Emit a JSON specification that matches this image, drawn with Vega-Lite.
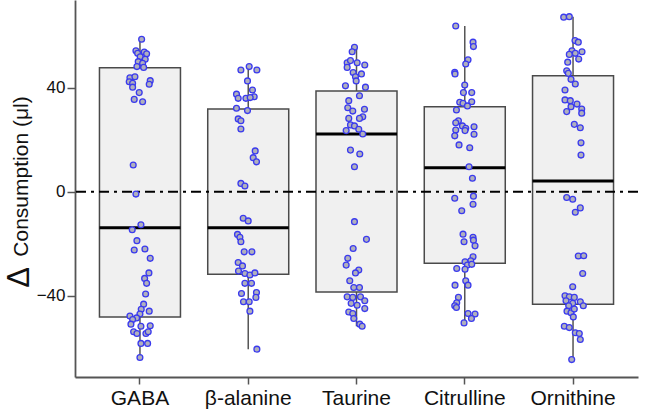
{
  "$schema": "https://vega.github.io/schema/vega-lite/v6.json",
  "width": 563,
  "height": 377,
  "autosize": "none",
  "padding": {"left": 75, "top": 0, "right": 7, "bottom": 37},
  "background": "white",
  "config": {
    "view": {"stroke": null},
    "axis": {"grid": false, "domainColor": "#555555", "tickColor": "#555555", "domainWidth": 1.8, "tickWidth": 1.5, "labelColor": "#111111", "labelFont": "Liberation Sans", "titleFont": "Liberation Sans", "titleColor": "#111111", "titleFontWeight": "normal"}
  },
  "datasets": {
    "boxes": [
      {"amino": "GABA", "lower": -63.7, "q1": -48.1, "median": -13.8, "q3": 47.7, "upper": 58.6},
      {"amino": "β-alanine", "lower": -60.5, "q1": -31.7, "median": -13.8, "q3": 31.8, "upper": 48.1},
      {"amino": "Taurine", "lower": -51.7, "q1": -38.5, "median": 22.2, "q3": 38.7, "upper": 55.5},
      {"amino": "Citrulline", "lower": -50.4, "q1": -27.5, "median": 9.2, "q3": 32.7, "upper": 63.7},
      {"amino": "Ornithine", "lower": -64.5, "q1": -43.2, "median": 4.1, "q3": 44.6, "upper": 67.3}
    ],
    "reference": [{"level": 0}],
    "points": [
      {"amino": "GABA", "value": 58.6, "jitter": 0.17},
      {"amino": "GABA", "value": 54.2, "jitter": -0.4},
      {"amino": "GABA", "value": 53.7, "jitter": 0.43},
      {"amino": "GABA", "value": 53.2, "jitter": -0.23},
      {"amino": "GABA", "value": 53.0, "jitter": 0.67},
      {"amino": "GABA", "value": 51.9, "jitter": 0.03},
      {"amino": "GABA", "value": 50.9, "jitter": 0.53},
      {"amino": "GABA", "value": 50.0, "jitter": -0.17},
      {"amino": "GABA", "value": 49.4, "jitter": 0.27},
      {"amino": "GABA", "value": 48.1, "jitter": -0.3},
      {"amino": "GABA", "value": 47.8, "jitter": 0.37},
      {"amino": "GABA", "value": 43.8, "jitter": -1.0},
      {"amino": "GABA", "value": 44.2, "jitter": -0.5},
      {"amino": "GABA", "value": 42.3, "jitter": -1.07},
      {"amino": "GABA", "value": 41.7, "jitter": -0.73},
      {"amino": "GABA", "value": 42.7, "jitter": 1.03},
      {"amino": "GABA", "value": 41.3, "jitter": 0.93},
      {"amino": "GABA", "value": 40.2, "jitter": -0.73},
      {"amino": "GABA", "value": 38.1, "jitter": -0.07},
      {"amino": "GABA", "value": 35.5, "jitter": -0.57},
      {"amino": "GABA", "value": 34.6, "jitter": 0.27},
      {"amino": "GABA", "value": 10.3, "jitter": -0.67},
      {"amino": "GABA", "value": -0.9, "jitter": -0.4},
      {"amino": "GABA", "value": -12.7, "jitter": 0.1},
      {"amino": "GABA", "value": -14.6, "jitter": -0.77},
      {"amino": "GABA", "value": -18.8, "jitter": -0.3},
      {"amino": "GABA", "value": -22.4, "jitter": -0.57},
      {"amino": "GABA", "value": -22.0, "jitter": 0.5},
      {"amino": "GABA", "value": -25.6, "jitter": 1.03},
      {"amino": "GABA", "value": -31.2, "jitter": 0.9},
      {"amino": "GABA", "value": -33.3, "jitter": 0.47},
      {"amino": "GABA", "value": -35.2, "jitter": 0.67},
      {"amino": "GABA", "value": -39.3, "jitter": 0.57},
      {"amino": "GABA", "value": -43.2, "jitter": 0.37},
      {"amino": "GABA", "value": -45.2, "jitter": 0.13},
      {"amino": "GABA", "value": -45.9, "jitter": 0.93},
      {"amino": "GABA", "value": -47.0, "jitter": 0.0},
      {"amino": "GABA", "value": -47.8, "jitter": -1.0},
      {"amino": "GABA", "value": -48.5, "jitter": -0.33},
      {"amino": "GABA", "value": -49.1, "jitter": -0.73},
      {"amino": "GABA", "value": -50.9, "jitter": -0.9},
      {"amino": "GABA", "value": -51.7, "jitter": 0.1},
      {"amino": "GABA", "value": -51.5, "jitter": 1.03},
      {"amino": "GABA", "value": -53.8, "jitter": -0.63},
      {"amino": "GABA", "value": -54.5, "jitter": -0.3},
      {"amino": "GABA", "value": -54.5, "jitter": 0.6},
      {"amino": "GABA", "value": -53.8, "jitter": 0.83},
      {"amino": "GABA", "value": -58.3, "jitter": 0.1},
      {"amino": "GABA", "value": -58.3, "jitter": 0.77},
      {"amino": "GABA", "value": -63.7, "jitter": 0.0},
      {"amino": "β-alanine", "value": 46.8, "jitter": -0.73},
      {"amino": "β-alanine", "value": 48.1, "jitter": 0.1},
      {"amino": "β-alanine", "value": 46.8, "jitter": 0.87},
      {"amino": "β-alanine", "value": 42.6, "jitter": -0.07},
      {"amino": "β-alanine", "value": 39.1, "jitter": 0.43},
      {"amino": "β-alanine", "value": 37.5, "jitter": -1.17},
      {"amino": "β-alanine", "value": 36.5, "jitter": 0.6},
      {"amino": "β-alanine", "value": 35.9, "jitter": -1.0},
      {"amino": "β-alanine", "value": 35.9, "jitter": -0.23},
      {"amino": "β-alanine", "value": 36.2, "jitter": 0.2},
      {"amino": "β-alanine", "value": 32.1, "jitter": -1.17},
      {"amino": "β-alanine", "value": 31.2, "jitter": -0.07},
      {"amino": "β-alanine", "value": 28.0, "jitter": -1.0},
      {"amino": "β-alanine", "value": 27.3, "jitter": -0.73},
      {"amino": "β-alanine", "value": 24.1, "jitter": -0.73},
      {"amino": "β-alanine", "value": 15.7, "jitter": 0.7},
      {"amino": "β-alanine", "value": 13.1, "jitter": 0.5},
      {"amino": "β-alanine", "value": 11.5, "jitter": 0.83},
      {"amino": "β-alanine", "value": 3.2, "jitter": -0.73},
      {"amino": "β-alanine", "value": 2.2, "jitter": -0.33},
      {"amino": "β-alanine", "value": -10.2, "jitter": -0.5},
      {"amino": "β-alanine", "value": -11.2, "jitter": 0.0},
      {"amino": "β-alanine", "value": -16.4, "jitter": -1.07},
      {"amino": "β-alanine", "value": -17.5, "jitter": -0.83},
      {"amino": "β-alanine", "value": -19.2, "jitter": -0.73},
      {"amino": "β-alanine", "value": -23.1, "jitter": -0.4},
      {"amino": "β-alanine", "value": -23.1, "jitter": 0.37},
      {"amino": "β-alanine", "value": -27.2, "jitter": -1.0},
      {"amino": "β-alanine", "value": -28.5, "jitter": -0.57},
      {"amino": "β-alanine", "value": -30.5, "jitter": -0.97},
      {"amino": "β-alanine", "value": -31.4, "jitter": -0.33},
      {"amino": "β-alanine", "value": -32.0, "jitter": 0.17},
      {"amino": "β-alanine", "value": -31.2, "jitter": 0.67},
      {"amino": "β-alanine", "value": -35.2, "jitter": -0.33},
      {"amino": "β-alanine", "value": -35.2, "jitter": 0.33},
      {"amino": "β-alanine", "value": -39.1, "jitter": -0.67},
      {"amino": "β-alanine", "value": -38.7, "jitter": 0.83},
      {"amino": "β-alanine", "value": -40.6, "jitter": 0.77},
      {"amino": "β-alanine", "value": -42.3, "jitter": -0.47},
      {"amino": "β-alanine", "value": -42.3, "jitter": 0.1},
      {"amino": "β-alanine", "value": -45.9, "jitter": 0.17},
      {"amino": "β-alanine", "value": -60.5, "jitter": 0.87},
      {"amino": "Taurine", "value": 55.5, "jitter": -0.2},
      {"amino": "Taurine", "value": 53.8, "jitter": -0.43},
      {"amino": "Taurine", "value": 49.6, "jitter": -0.93},
      {"amino": "Taurine", "value": 50.4, "jitter": -0.6},
      {"amino": "Taurine", "value": 49.6, "jitter": 0.07},
      {"amino": "Taurine", "value": 48.7, "jitter": 0.83},
      {"amino": "Taurine", "value": 47.8, "jitter": -0.93},
      {"amino": "Taurine", "value": 45.8, "jitter": -0.33},
      {"amino": "Taurine", "value": 45.3, "jitter": 0.5},
      {"amino": "Taurine", "value": 44.2, "jitter": -0.1},
      {"amino": "Taurine", "value": 42.6, "jitter": -0.03},
      {"amino": "Taurine", "value": 40.7, "jitter": -1.1},
      {"amino": "Taurine", "value": 40.2, "jitter": 0.9},
      {"amino": "Taurine", "value": 36.9, "jitter": 0.3},
      {"amino": "Taurine", "value": 35.0, "jitter": -0.77},
      {"amino": "Taurine", "value": 32.3, "jitter": -0.87},
      {"amino": "Taurine", "value": 31.7, "jitter": 0.8},
      {"amino": "Taurine", "value": 31.0, "jitter": -0.37},
      {"amino": "Taurine", "value": 28.8, "jitter": 0.63},
      {"amino": "Taurine", "value": 28.2, "jitter": -0.77},
      {"amino": "Taurine", "value": 28.2, "jitter": 0.3},
      {"amino": "Taurine", "value": 25.7, "jitter": -0.6},
      {"amino": "Taurine", "value": 25.3, "jitter": -0.2},
      {"amino": "Taurine", "value": 23.5, "jitter": -1.03},
      {"amino": "Taurine", "value": 24.0, "jitter": 0.23},
      {"amino": "Taurine", "value": 22.2, "jitter": 0.63},
      {"amino": "Taurine", "value": 16.0, "jitter": -0.6},
      {"amino": "Taurine", "value": 14.5, "jitter": 0.33},
      {"amino": "Taurine", "value": 9.6, "jitter": -0.2},
      {"amino": "Taurine", "value": -11.5, "jitter": -0.2},
      {"amino": "Taurine", "value": -18.3, "jitter": 1.0},
      {"amino": "Taurine", "value": -21.8, "jitter": -0.33},
      {"amino": "Taurine", "value": -25.6, "jitter": -0.87},
      {"amino": "Taurine", "value": -28.2, "jitter": -1.03},
      {"amino": "Taurine", "value": -30.1, "jitter": 0.23},
      {"amino": "Taurine", "value": -31.2, "jitter": -0.1},
      {"amino": "Taurine", "value": -34.2, "jitter": -0.67},
      {"amino": "Taurine", "value": -36.8, "jitter": -0.27},
      {"amino": "Taurine", "value": -36.8, "jitter": 0.3},
      {"amino": "Taurine", "value": -40.4, "jitter": -0.93},
      {"amino": "Taurine", "value": -40.6, "jitter": -0.37},
      {"amino": "Taurine", "value": -40.4, "jitter": 0.4},
      {"amino": "Taurine", "value": -41.9, "jitter": 0.83},
      {"amino": "Taurine", "value": -42.9, "jitter": -0.53},
      {"amino": "Taurine", "value": -43.6, "jitter": 0.07},
      {"amino": "Taurine", "value": -44.9, "jitter": 0.83},
      {"amino": "Taurine", "value": -46.2, "jitter": -0.77},
      {"amino": "Taurine", "value": -46.8, "jitter": -0.37},
      {"amino": "Taurine", "value": -48.7, "jitter": -0.27},
      {"amino": "Taurine", "value": -50.9, "jitter": 0.33},
      {"amino": "Taurine", "value": -51.7, "jitter": 0.57},
      {"amino": "Citrulline", "value": 63.7, "jitter": -0.9},
      {"amino": "Citrulline", "value": 57.5, "jitter": 0.83},
      {"amino": "Citrulline", "value": 55.8, "jitter": 0.87},
      {"amino": "Citrulline", "value": 50.7, "jitter": 0.33},
      {"amino": "Citrulline", "value": 49.1, "jitter": 0.1},
      {"amino": "Citrulline", "value": 45.9, "jitter": -1.0},
      {"amino": "Citrulline", "value": 45.3, "jitter": -0.97},
      {"amino": "Citrulline", "value": 41.0, "jitter": 0.0},
      {"amino": "Citrulline", "value": 38.1, "jitter": -0.13},
      {"amino": "Citrulline", "value": 38.1, "jitter": 0.7},
      {"amino": "Citrulline", "value": 34.4, "jitter": -0.5},
      {"amino": "Citrulline", "value": 34.0, "jitter": -0.17},
      {"amino": "Citrulline", "value": 34.6, "jitter": 0.7},
      {"amino": "Citrulline", "value": 33.0, "jitter": 0.27},
      {"amino": "Citrulline", "value": 31.4, "jitter": -0.83},
      {"amino": "Citrulline", "value": 27.3, "jitter": -0.63},
      {"amino": "Citrulline", "value": 26.5, "jitter": -0.9},
      {"amino": "Citrulline", "value": 25.3, "jitter": -0.23},
      {"amino": "Citrulline", "value": 24.4, "jitter": 0.1},
      {"amino": "Citrulline", "value": 25.0, "jitter": 0.93},
      {"amino": "Citrulline", "value": 23.7, "jitter": -0.9},
      {"amino": "Citrulline", "value": 23.5, "jitter": 0.03},
      {"amino": "Citrulline", "value": 22.1, "jitter": 0.93},
      {"amino": "Citrulline", "value": 21.5, "jitter": -1.0},
      {"amino": "Citrulline", "value": 18.0, "jitter": -0.57},
      {"amino": "Citrulline", "value": 16.9, "jitter": 0.5},
      {"amino": "Citrulline", "value": 9.6, "jitter": 0.43},
      {"amino": "Citrulline", "value": 5.2, "jitter": 0.77},
      {"amino": "Citrulline", "value": -1.7, "jitter": 0.87},
      {"amino": "Citrulline", "value": -2.5, "jitter": -1.0},
      {"amino": "Citrulline", "value": -4.8, "jitter": 0.83},
      {"amino": "Citrulline", "value": -7.3, "jitter": -0.3},
      {"amino": "Citrulline", "value": -16.3, "jitter": -0.17},
      {"amino": "Citrulline", "value": -19.2, "jitter": -0.07},
      {"amino": "Citrulline", "value": -17.5, "jitter": 0.83},
      {"amino": "Citrulline", "value": -18.6, "jitter": 0.87},
      {"amino": "Citrulline", "value": -20.8, "jitter": 1.03},
      {"amino": "Citrulline", "value": -25.0, "jitter": 0.83},
      {"amino": "Citrulline", "value": -26.5, "jitter": 0.6},
      {"amino": "Citrulline", "value": -26.9, "jitter": 0.03},
      {"amino": "Citrulline", "value": -28.2, "jitter": 0.27},
      {"amino": "Citrulline", "value": -27.9, "jitter": 0.7},
      {"amino": "Citrulline", "value": -29.5, "jitter": -0.8},
      {"amino": "Citrulline", "value": -29.8, "jitter": 0.03},
      {"amino": "Citrulline", "value": -34.2, "jitter": 0.1},
      {"amino": "Citrulline", "value": -35.9, "jitter": 0.33},
      {"amino": "Citrulline", "value": -35.9, "jitter": -0.97},
      {"amino": "Citrulline", "value": -40.6, "jitter": -0.63},
      {"amino": "Citrulline", "value": -42.7, "jitter": -0.8},
      {"amino": "Citrulline", "value": -43.8, "jitter": -1.0},
      {"amino": "Citrulline", "value": -44.5, "jitter": -0.83},
      {"amino": "Citrulline", "value": -46.8, "jitter": 0.33},
      {"amino": "Citrulline", "value": -47.0, "jitter": 1.03},
      {"amino": "Citrulline", "value": -48.7, "jitter": 0.67},
      {"amino": "Citrulline", "value": -50.4, "jitter": -0.07},
      {"amino": "Ornithine", "value": 67.1, "jitter": -0.93},
      {"amino": "Ornithine", "value": 67.3, "jitter": -0.37},
      {"amino": "Ornithine", "value": 58.1, "jitter": 0.2},
      {"amino": "Ornithine", "value": 57.5, "jitter": 0.53},
      {"amino": "Ornithine", "value": 54.2, "jitter": -0.1},
      {"amino": "Ornithine", "value": 53.8, "jitter": 0.9},
      {"amino": "Ornithine", "value": 53.2, "jitter": 0.23},
      {"amino": "Ornithine", "value": 52.8, "jitter": -0.37},
      {"amino": "Ornithine", "value": 51.0, "jitter": 0.57},
      {"amino": "Ornithine", "value": 49.8, "jitter": -0.53},
      {"amino": "Ornithine", "value": 46.5, "jitter": -0.63},
      {"amino": "Ornithine", "value": 45.5, "jitter": -0.47},
      {"amino": "Ornithine", "value": 43.2, "jitter": -0.2},
      {"amino": "Ornithine", "value": 41.4, "jitter": 0.23},
      {"amino": "Ornithine", "value": 39.1, "jitter": -0.8},
      {"amino": "Ornithine", "value": 35.3, "jitter": -0.8},
      {"amino": "Ornithine", "value": 35.0, "jitter": -0.27},
      {"amino": "Ornithine", "value": 33.7, "jitter": 0.4},
      {"amino": "Ornithine", "value": 32.7, "jitter": -0.2},
      {"amino": "Ornithine", "value": 31.8, "jitter": 0.87},
      {"amino": "Ornithine", "value": 30.8, "jitter": -0.63},
      {"amino": "Ornithine", "value": 30.2, "jitter": 0.87},
      {"amino": "Ornithine", "value": 25.9, "jitter": 0.13},
      {"amino": "Ornithine", "value": 24.6, "jitter": 0.73},
      {"amino": "Ornithine", "value": 18.8, "jitter": 0.8},
      {"amino": "Ornithine", "value": 14.1, "jitter": 0.8},
      {"amino": "Ornithine", "value": -2.2, "jitter": -0.63},
      {"amino": "Ornithine", "value": -2.9, "jitter": -0.03},
      {"amino": "Ornithine", "value": -6.2, "jitter": 0.73},
      {"amino": "Ornithine", "value": -7.9, "jitter": 0.23},
      {"amino": "Ornithine", "value": -24.7, "jitter": 0.53},
      {"amino": "Ornithine", "value": -24.6, "jitter": 1.07},
      {"amino": "Ornithine", "value": -31.4, "jitter": 0.97},
      {"amino": "Ornithine", "value": -36.5, "jitter": -0.03},
      {"amino": "Ornithine", "value": -40.0, "jitter": -0.8},
      {"amino": "Ornithine", "value": -40.4, "jitter": -0.37},
      {"amino": "Ornithine", "value": -40.6, "jitter": 0.13},
      {"amino": "Ornithine", "value": -41.9, "jitter": -0.7},
      {"amino": "Ornithine", "value": -42.3, "jitter": 0.73},
      {"amino": "Ornithine", "value": -42.9, "jitter": -0.03},
      {"amino": "Ornithine", "value": -43.8, "jitter": -0.43},
      {"amino": "Ornithine", "value": -43.8, "jitter": 1.03},
      {"amino": "Ornithine", "value": -45.9, "jitter": -0.6},
      {"amino": "Ornithine", "value": -46.5, "jitter": -0.2},
      {"amino": "Ornithine", "value": -45.1, "jitter": 0.13},
      {"amino": "Ornithine", "value": -48.1, "jitter": 0.03},
      {"amino": "Ornithine", "value": -51.7, "jitter": -0.87},
      {"amino": "Ornithine", "value": -52.2, "jitter": -0.37},
      {"amino": "Ornithine", "value": -54.2, "jitter": 0.23},
      {"amino": "Ornithine", "value": -54.5, "jitter": 0.63},
      {"amino": "Ornithine", "value": -56.8, "jitter": 0.73},
      {"amino": "Ornithine", "value": -64.5, "jitter": -0.13}
    ]
  },
  "resolve": {"axis": {"y": "independent"}},
  "layer": [
    {
      "data": {"name": "boxes"},
      "mark": {"type": "rule", "color": "#555555", "strokeWidth": 1.5},
      "encoding": {
        "x": {"field": "amino", "type": "nominal", "sort": ["GABA", "β-alanine", "Taurine", "Citrulline", "Ornithine"],
          "scale": {"paddingInner": 0, "paddingOuter": 0.1},
          "axis": {"title": null, "labelAngle": 0, "labelFontSize": 21, "tickSize": 7, "labelPadding": 3}},
        "y": {"field": "lower", "type": "quantitative", "scale": {"domain": [-71.2, 73.7], "nice": false, "zero": false},
          "axis": {"values": [-40, 0, 40], "labelFontSize": 17, "tickSize": 8, "labelPadding": 2,
            "title": "Consumption (μl)", "titleFontSize": 21, "titleAngle": 270, "titleAlign": "center", "titleBaseline": "alphabetic", "titleX": -48, "titleY": 176}},
        "y2": {"field": "upper"}
      }
    },
    {
      "data": {"name": "boxes"},
      "mark": {"type": "bar", "fill": "#f0f0f0", "stroke": "#4a4a4a", "strokeWidth": 1.5, "width": 81},
      "encoding": {
        "x": {"field": "amino", "type": "nominal", "sort": ["GABA", "β-alanine", "Taurine", "Citrulline", "Ornithine"]},
        "y": {"field": "q1", "type": "quantitative", "scale": {"domain": [-71.2, 73.7], "nice": false, "zero": false},
          "axis": {"orient": "left", "labels": false, "ticks": false, "domain": false, "title": "Δ", "titleFontSize": 31, "titleAngle": 270, "titleAlign": "center", "titleBaseline": "alphabetic", "titleX": -47, "titleY": 277}},
        "y2": {"field": "q3"}
      }
    },
    {
      "data": {"name": "boxes"},
      "mark": {"type": "tick", "color": "black", "opacity": 1, "size": 81, "thickness": 3, "orient": "horizontal"},
      "encoding": {
        "x": {"field": "amino", "type": "nominal", "sort": ["GABA", "β-alanine", "Taurine", "Citrulline", "Ornithine"]},
        "y": {"field": "median", "type": "quantitative", "scale": {"domain": [-71.2, 73.7], "nice": false, "zero": false}, "axis": null}
      }
    },
    {
      "data": {"name": "reference"},
      "mark": {"type": "rule", "color": "black", "strokeWidth": 1.8, "strokeDash": [10, 5, 3, 5]},
      "encoding": {
        "y": {"field": "level", "type": "quantitative", "scale": {"domain": [-71.2, 73.7], "nice": false, "zero": false}, "axis": null}
      }
    },
    {
      "data": {"name": "points"},
      "mark": {"type": "circle", "size": 34, "fill": "#b0b0bc", "stroke": "#3a3aee", "strokeWidth": 1.3, "opacity": 1},
      "encoding": {
        "x": {"field": "amino", "type": "nominal", "sort": ["GABA", "β-alanine", "Taurine", "Citrulline", "Ornithine"]},
        "xOffset": {"field": "jitter", "type": "quantitative", "scale": {"domain": [-1, 1], "range": [44.1, 64.1]}},
        "y": {"field": "value", "type": "quantitative", "scale": {"domain": [-71.2, 73.7], "nice": false, "zero": false}, "axis": null}
      }
    }
  ]
}
